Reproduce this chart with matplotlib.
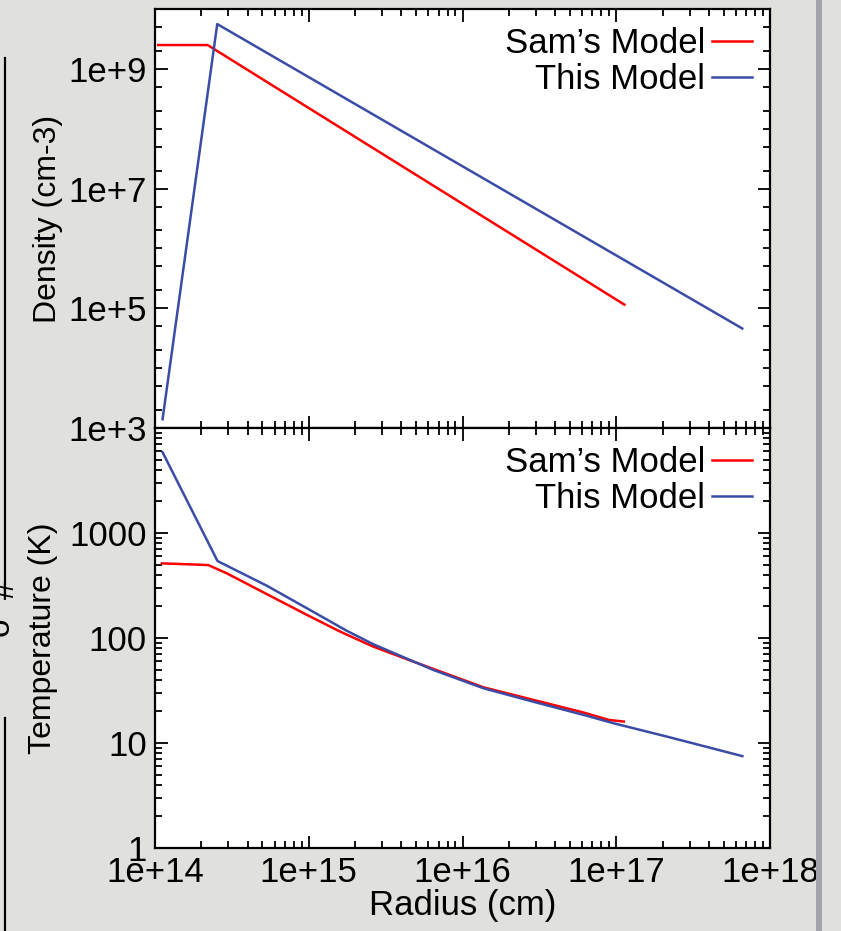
import numpy as np
import matplotlib
matplotlib.use('Agg')
import matplotlib.pyplot as plt
from matplotlib.ticker import FixedLocator, LogLocator, NullFormatter, FuncFormatter
from matplotlib.lines import Line2D
from matplotlib.patches import Rectangle

# ---- data ----
# density panel
r_sam_dens = [1.05e14, 2.2e14, 1.13e17]
dens_sam = [2.5e9, 2.5e9, 1.15e5]
r_this_dens = [1.12e14, 2.54e14, 6.6e17]
dens_this = [1.4e3, 5.6e9, 4.6e4]

# temperature panel
r_sam_temp = [1.11e14, 2.22e14, 2.93e14, 5.33e14, 9.73e14, 1.60e15, 2.64e15,
              4.36e15, 1.37e16, 2.90e16, 6.14e16, 8.93e16, 1.12e17]
temp_sam = [514, 495, 413, 262, 166, 115, 82.6, 62.7, 33.9, 25.7, 19.5, 16.6, 16.0]
r_this_temp = [1.12e14, 2.55e14, 5.33e14, 9.73e14, 1.77e15, 2.64e15, 4.36e15,
               6.49e15, 1.37e16, 2.90e16, 6.14e16, 9.64e16, 2.14e17, 6.61e17]
temp_this = [5875, 541, 315, 192, 117, 87.0, 63.5, 49.5, 33.2, 24.7, 18.5, 15.4, 11.5, 7.5]

series_names = ['Sam’s Model', 'This Model']
series_colors = ['#ff0000', '#3a4ca6']

x_ticks = [1e14, 1e15, 1e16, 1e17, 1e18]
dens_ticks = [1e3, 1e5, 1e7, 1e9]
temp_ticks = [1, 10, 100, 1000]

plt.rcParams['font.family'] = ['Liberation Sans', 'DejaVu Sans']
bg = '#e0e0dc'

W, H = 841, 931
fig = plt.figure(figsize=(W / 100, H / 100), dpi=100, facecolor=bg)

# axes boxes in pixels: left, right, top, bottom
L, R = 155, 770
ax1 = fig.add_axes([L / W, 1 - 428 / H, (R - L) / W, (428 - 9) / H])
ax2 = fig.add_axes([L / W, 1 - 848 / H, (R - L) / W, (848 - 428) / H])


def exp_label(v, _):
    return f"1e+{int(round(np.log10(v)))}"


def style_axes(ax):
    ax.set_xscale('log')
    ax.set_yscale('log')
    ax.set_xlim(1e14, 1e18)
    ax.xaxis.set_major_locator(FixedLocator(x_ticks))
    ax.xaxis.set_minor_locator(LogLocator(base=10, subs=np.arange(2, 10), numticks=20))
    ax.xaxis.set_minor_formatter(NullFormatter())
    ax.xaxis.set_major_formatter(FuncFormatter(exp_label))
    ax.tick_params(which='both', direction='in', top=True, right=True,
                   labelsize=25, width=1.3, colors='black', pad=6)
    ax.tick_params(which='major', length=9)
    ax.tick_params(which='minor', length=5)
    for sp in ax.spines.values():
        sp.set_linewidth(1.6)
    ax.set_facecolor('white')


# ---- density ----
ax1.plot(r_sam_dens, dens_sam, color=series_colors[0], lw=1.8, label=series_names[0])
ax1.plot(r_this_dens, dens_this, color=series_colors[1], lw=1.8, label=series_names[1])
style_axes(ax1)
ax1.set_ylim(1e3, 1e10)
ax1.yaxis.set_major_locator(FixedLocator(dens_ticks))
ax1.yaxis.set_major_formatter(FuncFormatter(exp_label))
ax1.yaxis.set_minor_locator(LogLocator(base=10, subs=(1.0, 2.0, 5.0), numticks=20))
ax1.yaxis.set_minor_formatter(NullFormatter())
ax1.tick_params(labelbottom=False)
ax1.set_ylabel('Density (cm-3)', fontsize=23)
ax1.yaxis.set_label_coords(-0.150, 0.5)

# ---- temperature ----
ax2.plot(r_sam_temp, temp_sam, color=series_colors[0], lw=1.8, label=series_names[0])
ax2.plot(r_this_temp, temp_this, color=series_colors[1], lw=1.8, label=series_names[1])
style_axes(ax2)
ax2.set_ylim(1, 1e4)
ax2.yaxis.set_major_locator(FixedLocator(temp_ticks))
ax2.yaxis.set_major_formatter(FuncFormatter(lambda v, _: f"{v:g}"))
ax2.yaxis.set_minor_locator(LogLocator(base=10, subs=np.arange(2, 10), numticks=20))
ax2.yaxis.set_minor_formatter(NullFormatter())
ax2.set_ylabel('Temperature (K)', fontsize=23)
ax2.yaxis.set_label_coords(-0.157, 0.5)
ax2.set_xlabel('Radius (cm)', fontsize=25)
ax2.xaxis.set_label_coords(0.5, -0.098)

# legends: text first, line sample on the right (gnuplot style)
for ax in (ax1, ax2):
    ax.legend(loc='upper right', frameon=False, markerfirst=False, fontsize=25,
              handlelength=1.15, handletextpad=0.2, labelspacing=0.09,
              borderaxespad=0.2, borderpad=0.32)

# bits of the slide around the chart
fig.add_artist(Line2D([5 / W, 5 / W], [1 - 58 / H, 1 - 595 / H], color='black', lw=1.6))
fig.add_artist(Line2D([5 / W, 5 / W], [1 - 718 / H, 0], color='black', lw=1.6))
fig.text(5 / W, 1 - 590 / H, '#', rotation=90, fontsize=24, ha='center', va='center')
fig.text(0 / W, 1 - 627 / H, 'o', rotation=90, fontsize=24, ha='center', va='center')
fig.add_artist(Rectangle((816 / W, 0), 6 / W, 1, transform=fig.transFigure,
                         facecolor='#a2a2aa', edgecolor='none'))

fig.savefig('out.png', dpi=100, facecolor=bg)
